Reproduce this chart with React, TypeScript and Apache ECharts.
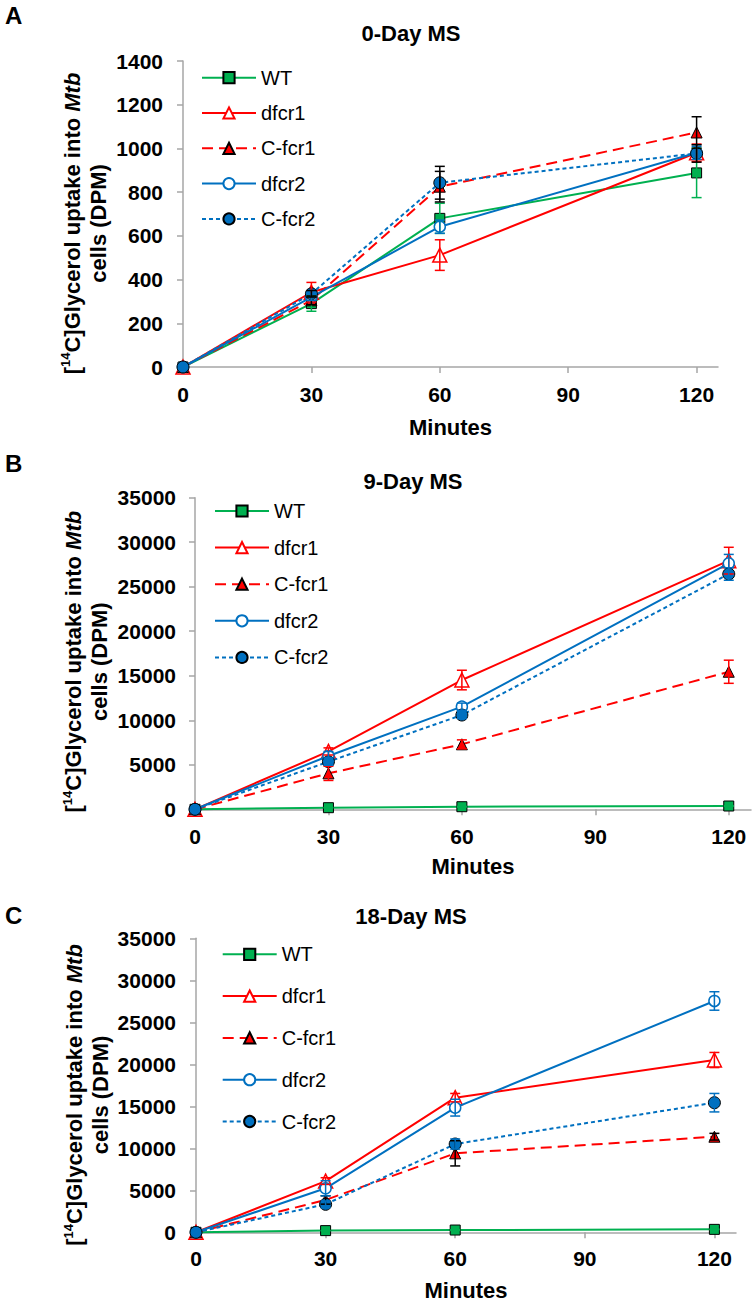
import React, { useEffect, useRef } from "react";
import * as echarts from "echarts";

// ---------- DATA ----------
const minutes = [0, 30, 60, 120];
const xTicks = [0, 30, 60, 90, 120];
const seriesNames = ["WT", "dfcr1", "C-fcr1", "dfcr2", "C-fcr2"];
const panelTitles = ["0-Day MS", "9-Day MS", "18-Day MS"];
const panelLetters = ["A", "B", "C"];
const yMaxes = [1400, 35000, 35000];
const yIntervals = [200, 5000, 5000];
const yAxisTitle = "{t|[}{s|14}{t|C]Glycerol uptake into }{i|Mtb}\n{t|cells (DPM)}";

// Panel A: 0-Day MS
const a_WT = [0, 290, 680, 888];
const a_WT_err = [0, 35, 69, 113];
const a_dfcr1 = [0, 342, 512, 980];
const a_dfcr1_err = [0, 45, 70, 40];
const a_Cfcr1 = [0, 305, 825, 1073];
const a_Cfcr1_err = [0, 20, 70, 72];
const a_dfcr2 = [0, 320, 642, 980];
const a_dfcr2_err = [0, 15, 30, 30];
const a_Cfcr2 = [0, 335, 843, 977];
const a_Cfcr2_err = [0, 15, 75, 40];

// Panel B: 9-Day MS
const b_WT = [0, 180, 290, 370];
const b_WT_err = [0, 30, 40, 40];
const b_dfcr1 = [0, 6500, 14520, 27930];
const b_dfcr1_err = [0, 400, 1100, 1500];
const b_Cfcr1 = [0, 4040, 7300, 15450];
const b_Cfcr1_err = [0, 800, 500, 1300];
const b_dfcr2 = [0, 5990, 11530, 27630];
const b_dfcr2_err = [0, 500, 400, 1000];
const b_Cfcr2 = [0, 5350, 10590, 26430];
const b_Cfcr2_err = [0, 400, 400, 700];

// Panel C: 18-Day MS
const c_WT = [0, 200, 270, 350];
const c_WT_err = [0, 30, 40, 40];
const c_dfcr1 = [0, 6100, 16030, 20510];
const c_dfcr1_err = [0, 400, 500, 900];
const c_Cfcr1 = [0, 3850, 9400, 11380];
const c_Cfcr1_err = [0, 500, 1500, 400];
const c_dfcr2 = [0, 5240, 14840, 27540];
const c_dfcr2_err = [0, 900, 1000, 1100];
const c_Cfcr2 = [0, 3330, 10510, 15430];
const c_Cfcr2_err = [0, 400, 600, 1100];

const panels = [
  { values: [a_WT, a_dfcr1, a_Cfcr1, a_dfcr2, a_Cfcr2], errors: [a_WT_err, a_dfcr1_err, a_Cfcr1_err, a_dfcr2_err, a_Cfcr2_err] },
  { values: [b_WT, b_dfcr1, b_Cfcr1, b_dfcr2, b_Cfcr2], errors: [b_WT_err, b_dfcr1_err, b_Cfcr1_err, b_dfcr2_err, b_Cfcr2_err] },
  { values: [c_WT, c_dfcr1, c_Cfcr1, c_dfcr2, c_Cfcr2], errors: [c_WT_err, c_dfcr1_err, c_Cfcr1_err, c_dfcr2_err, c_Cfcr2_err] },
];

// ---------- STYLE ----------
const FONT = "'Liberation Sans', Arial, sans-serif";
const GREEN = "#00B050";
const RED = "#FF0000";
const BLUE = "#0070C0";
const AXIS = "#A6A6A6";

const seriesStyles = [
  { color: GREEN, symbol: "rect", size: 10, fill: GREEN, border: "#000", bw: 1, dash: "solid" as any },
  { color: RED, symbol: "triangle", size: 14, fill: "#FFFFFF", border: RED, bw: 1.5, dash: "solid" as any },
  { color: RED, symbol: "triangle", size: 11, fill: RED, border: "#000", bw: 1, dash: [11, 6] as any },
  { color: BLUE, symbol: "circle", size: 11, fill: "#FFFFFF", border: BLUE, bw: 1.5, dash: "solid" as any },
  { color: BLUE, symbol: "circle", size: 12, fill: BLUE, border: "#000", bw: 1, dash: [4, 3] as any },
];

const errColors = [
  [GREEN, RED, "#000", BLUE, "#000"],
  [GREEN, RED, RED, BLUE, BLUE],
  [GREEN, RED, "#000", BLUE, BLUE],
];

const grids = [
  { left: 183, top: 61, width: 535, height: 306 },
  { left: 195, top: 497.7, width: 556, height: 311.6 },
  { left: 196, top: 938.3, width: 540, height: 294 },
];
const legendPos = [
  { left: 201, top: 67.7, gap: 15.3 },
  { left: 214, top: 501, gap: 16.6 },
  { left: 221.7, top: 944.3, gap: 21.8 },
];
const titleY = [33, 481.7, 916.7];
const titleX = [411, 413, 411];
const letterY = [15, 463, 915];
const yTitlePos = [
  { x: 85, y: 223.5 },
  { x: 86.7, y: 661.7 },
  { x: 87.5, y: 1095 },
];
const xLabelMargin = [17, 17, 16];
const xNameGap = [49, 46, 47];
const yLabelMargin = [20, 19, 20];

function buildOption() {
  const series: any[] = [];
  const xAxis: any[] = [];
  const yAxis: any[] = [];
  const legend: any[] = [];
  const graphic: any[] = [];

  panels.forEach((p, pi) => {
    xAxis.push({
      gridIndex: pi,
      type: "value",
      min: 0,
      max: 125,
      interval: 30,
      name: "Minutes",
      nameLocation: "middle",
      nameGap: xNameGap[pi],
      nameTextStyle: { fontFamily: FONT, fontWeight: "bold", fontSize: 22, color: "#000" },
      axisLine: { show: true, lineStyle: { color: AXIS, width: 1.5 } },
      axisTick: { show: true, length: 6, lineStyle: { color: AXIS, width: 1.5 }, customValues: xTicks },
      axisLabel: { fontFamily: FONT, fontWeight: "bold", fontSize: 21, color: "#000", margin: xLabelMargin[pi], customValues: xTicks },
      splitLine: { show: false },
    });
    yAxis.push({
      gridIndex: pi,
      type: "value",
      min: 0,
      max: yMaxes[pi],
      interval: yIntervals[pi],
      axisLine: { show: true, lineStyle: { color: AXIS, width: 1.5 } },
      axisTick: { show: true, length: 6, lineStyle: { color: AXIS, width: 1.5 } },
      axisLabel: {
        fontFamily: FONT,
        fontWeight: "bold",
        fontSize: 21,
        color: "#000",
        margin: yLabelMargin[pi],
        formatter: (v: number) => String(v),
      },
      splitLine: { show: false },
    });

    seriesNames.forEach((name, si) => {
      const st = seriesStyles[si];
      series.push({
        type: "line",
        name,
        xAxisIndex: pi,
        yAxisIndex: pi,
        data: minutes.map((m, k) => [m, p.values[si][k]]),
        symbol: st.symbol,
        symbolSize: st.size,
        showAllSymbol: true,
        lineStyle: { color: st.color, width: 2, type: st.dash },
        itemStyle: { color: st.fill, borderColor: st.border, borderWidth: st.bw },
        z: 3 + si * 0.1,
        clip: false,
      });
    });
    seriesNames.forEach((name, si) => {
      const color = errColors[pi][si];
      series.push({
        type: "custom",
        name: name + " error",
        xAxisIndex: pi,
        yAxisIndex: pi,
        z: 4,
        clip: false,
        encode: { x: 0, y: [1, 2] },
        data: minutes
          .map((m, k) => [m, p.values[si][k] - p.errors[si][k], p.values[si][k] + p.errors[si][k], p.errors[si][k]])
          .filter((d) => d[3] > 0),
        renderItem: (params: any, api: any) => {
          const x = api.value(0);
          const lo = api.coord([x, api.value(1)]);
          const hi = api.coord([x, api.value(2)]);
          const w = 5;
          const style = { stroke: color, lineWidth: 1.5, fill: "none" };
          return {
            type: "group",
            children: [
              { type: "line", shape: { x1: lo[0], y1: lo[1], x2: hi[0], y2: hi[1] }, style },
              { type: "line", shape: { x1: lo[0] - w, y1: lo[1], x2: lo[0] + w, y2: lo[1] }, style },
              { type: "line", shape: { x1: hi[0] - w, y1: hi[1], x2: hi[0] + w, y2: hi[1] }, style },
            ],
          };
        },
      });
    });

    legend.push({
      data: seriesNames,
      orient: "vertical",
      left: legendPos[pi].left,
      top: legendPos[pi].top,
      itemGap: legendPos[pi].gap,
      itemWidth: 54,
      itemHeight: 14,
      padding: 0,
      selectedMode: false,
      textStyle: { fontFamily: FONT, fontSize: 20, color: "#000", lineHeight: 20 },
    });

    graphic.push({
      type: "text",
      x: titleX[pi],
      y: titleY[pi],
      style: { text: panelTitles[pi], fontFamily: FONT, fontWeight: "bold", fontSize: 22, fill: "#000", align: "center", verticalAlign: "middle" },
    });
    graphic.push({
      type: "text",
      x: 5,
      y: letterY[pi],
      style: { text: panelLetters[pi], fontFamily: FONT, fontWeight: "bold", fontSize: 24, fill: "#000", align: "left", verticalAlign: "middle" },
    });
    graphic.push({
      type: "text",
      x: yTitlePos[pi].x,
      y: yTitlePos[pi].y,
      rotation: Math.PI / 2,
      style: {
        text: yAxisTitle,
        fontFamily: FONT,
        fontWeight: "bold",
        fontSize: 22,
        lineHeight: 26,
        fill: "#000",
        align: "center",
        verticalAlign: "middle",
        rich: {
          t: { fontFamily: FONT, fontWeight: "bold", fontSize: 22, lineHeight: 26, fill: "#000" },
          s: { fontFamily: FONT, fontWeight: "bold", fontSize: 13, verticalAlign: "top", fill: "#000" },
          i: { fontFamily: FONT, fontWeight: "bold", fontStyle: "italic", fontSize: 22, lineHeight: 26, fill: "#000" },
        },
      },
    });
  });

  return {
    animation: false,
    backgroundColor: "#FFFFFF",
    grid: grids.map((g) => ({ ...g, containLabel: false })),
    xAxis,
    yAxis,
    legend,
    graphic,
    series,
  };
}

export default function App() {
  const ref = useRef<HTMLDivElement>(null);
  useEffect(() => {
    if (!ref.current) return;
    const chart = echarts.init(ref.current, undefined, { renderer: "svg" });
    chart.setOption(buildOption() as any);
    return () => chart.dispose();
  }, []);
  return <div ref={ref} style={{ position: "absolute", left: 0, top: 0, width: 756, height: 1303 }} />;
}
